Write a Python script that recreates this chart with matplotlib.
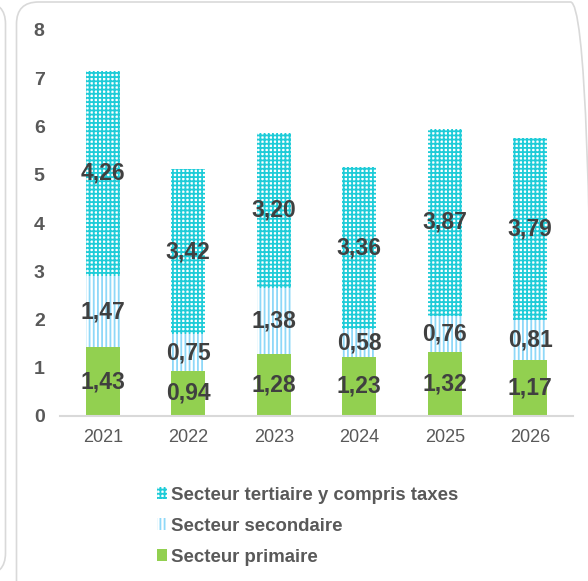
import matplotlib.pyplot as plt
from matplotlib.patches import FancyBboxPatch, Patch

plt.rcParams['font.family'] = ['Liberation Sans', 'DejaVu Sans']
plt.rcParams['hatch.linewidth'] = 1.3

years = ['2021', '2022', '2023', '2024', '2025', '2026']
primaire = [1.43, 0.94, 1.28, 1.23, 1.32, 1.17]
secondaire = [1.47, 0.75, 1.38, 0.58, 0.76, 0.81]
tertiaire = [4.26, 3.42, 3.20, 3.36, 3.87, 3.79]

fig = plt.figure(figsize=(5.88, 5.81), dpi=100)
ax = fig.add_axes([60 / 588, 165 / 581, 513 / 588, 386 / 581])

x = range(len(years))
w = 0.4
bottom2 = primaire
bottom3 = [a + b for a, b in zip(primaire, secondaire)]

b1 = ax.bar(x, primaire, w, color='#92d050', linewidth=0)
b2 = ax.bar(x, secondaire, w, bottom=bottom2, facecolor='white',
            edgecolor='#8ed8f8', hatch='||||', linewidth=0)
b3 = ax.bar(x, tertiaire, w, bottom=bottom3, facecolor='white',
            edgecolor='#1eccd8', hatch='++++', linewidth=0)

# value labels in the middle of each segment
for vals, bots in [(primaire, [0] * 6), (secondaire, bottom2),
                   (tertiaire, bottom3)]:
    for i, (v, b) in enumerate(zip(vals, bots)):
        ax.text(i, b + v / 2, f'{v:.2f}'.replace('.', ','), ha='center',
                va='center', fontsize=16.5, fontweight='bold', color='#404040')

ax.set_xlim(-0.5, 5.5)
ax.set_ylim(0, 8)
ax.set_xticks(list(x))
ax.set_xticklabels(years, fontsize=13, color='#595959')
ax.set_yticks(range(9))
ax.set_yticklabels([str(i) for i in range(9)], fontsize=14,
                   fontweight='bold', color='#595959')
ax.tick_params(length=0)
ax.tick_params(axis='y', pad=11)
ax.tick_params(axis='x', pad=9)
for s in ['top', 'right', 'left']:
    ax.spines[s].set_visible(False)
ax.spines['bottom'].set_color('#d9d9d9')
ax.spines['bottom'].set_linewidth(1.5)

handles = [Patch(facecolor='white', edgecolor='#1eccd8', hatch='++++', linewidth=0),
           Patch(facecolor='white', edgecolor='#8ed8f8', hatch='||||', linewidth=0),
           Patch(facecolor='#92d050', linewidth=0)]
labels = ['Secteur tertiaire y compris taxes', 'Secteur secondaire',
          'Secteur primaire']
leg = fig.legend(handles, labels, loc='upper left',
                 bbox_to_anchor=(140 / 588, 1 - 470 / 581),
                 frameon=False, handlelength=0.55, handleheight=0.6,
                 handletextpad=0.2, labelspacing=0.75,
                 prop={'size': 13.4, 'weight': 'bold'}, labelcolor='#595959')

# rounded panel borders
tr = fig.dpi_scale_trans
fig.patches.append(FancyBboxPatch((0.165, -0.3), 5.76, 6.09,
                                  boxstyle='round,pad=0,rounding_size=0.22',
                                  transform=tr, facecolor='none',
                                  edgecolor='#d9d9d9', linewidth=1.2))
fig.patches.append(FancyBboxPatch((-2.0, 0.06), 2.055, 5.73,
                                  boxstyle='round,pad=0,rounding_size=0.22',
                                  transform=tr, facecolor='none',
                                  edgecolor='#d9d9d9', linewidth=1.2))

fig.savefig('out.png', dpi=100)
